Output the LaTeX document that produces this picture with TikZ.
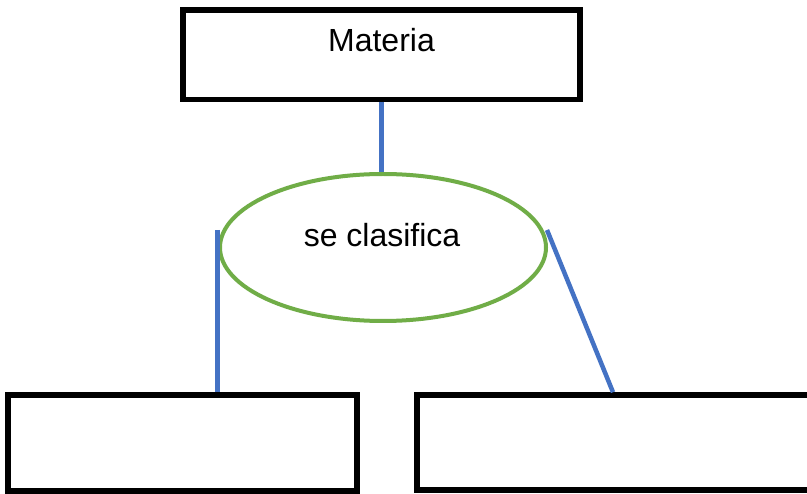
\documentclass[tikz,border=0pt]{standalone}
\usepackage{fontspec}
\setmainfont{Liberation Sans}
\usetikzlibrary{shapes.geometric}
\definecolor{offblue}{HTML}{4472C4}
\definecolor{offgreen}{HTML}{70AD47}
\tikzset{
  box/.style={draw=black, line width=5.5pt, rectangle, inner sep=0pt},
  bubble/.style={draw=offgreen, line width=4pt, ellipse, inner sep=0pt},
  link/.style={draw=offblue, line width=4.5pt},
  lbl/.style={font=\fontsize{32}{38}\selectfont, anchor=base, inner sep=0pt}
}
\begin{document}
\begin{tikzpicture}[x=1pt,y=-1pt]
\clip (0,0) rectangle (807,494);
\fill[white] (0,0) rectangle (807,494);
\node[box, minimum width=397pt, minimum height=89.5pt] (top) at (381.5,54.75) {};
\node[lbl] (toptext) at (381.5,52) {Materia};
\node[bubble, minimum width=326pt, minimum height=147pt] (ell) at (383,247.5) {};
\node[lbl] (elltext) at (382,247) {se clasifica};
\node[box, minimum width=349pt, minimum height=96pt] (bl) at (182.5,443) {};
\node[box, minimum width=395pt, minimum height=95pt] (br) at (614.5,442.5) {};
\coordinate (lt) at (217.5,230);
\coordinate (rt) at (547,230);
\coordinate (rbx) at (613,0);
\draw[link] (top.south) -- (top.south |- ell.north);
\draw[link] (lt) -- (lt |- bl.north);
\draw[link] (rt) -- (rbx |- br.north);
\end{tikzpicture}
\end{document}
